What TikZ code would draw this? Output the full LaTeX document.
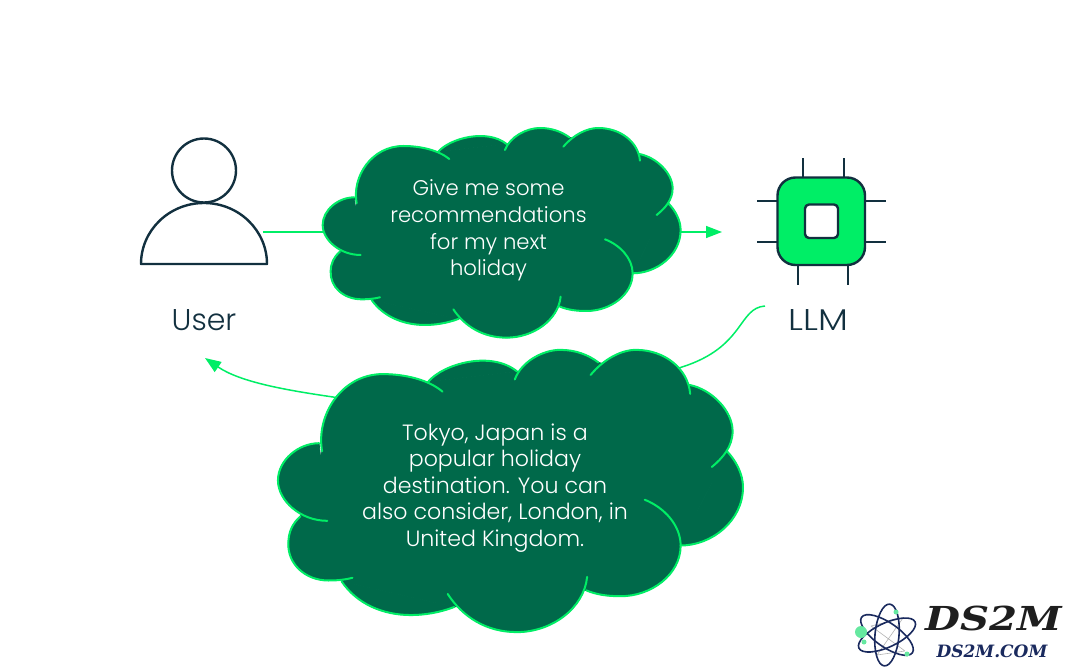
\documentclass[tikz,border=0pt]{standalone}
\usepackage{fontspec}
\setmainfont{Poppins}[UprightFont=* Light]
\newfontfamily\logofont{DejaVu Serif}[UprightFont=* Bold Italic]
\usetikzlibrary{arrows.meta}
\definecolor{ink}{HTML}{12303F}
\definecolor{neon}{HTML}{00EE66}
\definecolor{deep}{HTML}{00694A}
\definecolor{logoink}{HTML}{1E1E1E}
\definecolor{orbit}{HTML}{1A2A5E}
\definecolor{dotgreen}{HTML}{66E8A0}
\tikzset{
  glyph/.style={draw=ink,line width=2.4pt,line join=round},
  pin/.style={draw=ink,line width=2pt},
  flow/.style={draw=neon,line width=1.5pt},
  flowtip/.style={-{Triangle[length=16pt,width=12pt]}},
  cloudfill/.style={fill=deep,draw=deep,line width=.8pt},
  cloudline/.style={draw=neon,line width=2pt,line cap=round},
  asktext/.style={text=white,align=center,font=\fontsize{21.2}{26.6}\selectfont},
  replytext/.style={text=white,align=center,font=\fontsize{22.1}{26.6}\selectfont},
  actor/.style={text=ink,font=\fontsize{30}{34}\selectfont},
  orbitline/.style={draw=orbit,line width=1.6pt}
}
\newcommand\lobefill[1]{\path[cloudfill] #1 -- cycle;}
\newcommand\lobeline[1]{\path[cloudline] #1;}
\newcommand\cloudlobes[1]{%
 #1{(140,250) .. controls (125,170) and (185,78) .. (280,78) .. controls (330,78) and (385,90) .. (418,117)}%
 #1{(385,95) .. controls (420,55) and (530,25) .. (590,72)}%
 #1{(585,90) .. controls (600,50) and (650,24) .. (690,24) .. controls (725,24) and (755,35) .. (778,52)}%
 #1{(760,80) .. controls (790,45) and (830,24) .. (865,24) .. controls (930,24) and (985,65) .. (990,122)}%
 #1{(988,102) .. controls (1040,112) and (1088,160) .. (1088,205) .. controls (1088,240) and (1065,265) .. (1040,285)}%
 #1{(1075,250) .. controls (1095,270) and (1112,300) .. (1112,330) .. controls (1112,405) and (1040,460) .. (968,460)}%
 #1{(885,358) .. controls (930,375) and (968,415) .. (968,460) .. controls (968,525) and (900,573) .. (830,573) .. controls (800,573) and (775,570) .. (750,560)}%
 #1{(752,530) .. controls (745,600) and (670,653) .. (590,653) .. controls (520,653) and (465,620) .. (430,568)}%
 #1{(445,597) .. controls (410,610) and (375,615) .. (345,615) .. controls (280,615) and (220,590) .. (185,540)}%
 #1{(210,532) .. controls (190,537) and (170,538) .. (155,538) .. controls (100,538) and (60,500) .. (62,455) .. controls (62,430) and (72,410) .. (90,395)}%
 #1{(152,405) .. controls (90,405) and (38,360) .. (38,315) .. controls (38,270) and (85,232) .. (133,232)}%
}
\newcommand\cloudbody{%
 \path[cloudfill] (140,250) -- (385,95) -- (590,72) -- (778,52) -- (985,100) -- (1075,250) -- (968,460) -- (750,560) -- (445,597) -- (185,540) -- (90,395) -- cycle;
 \cloudlobes\lobefill
 \cloudlobes\lobeline
}
\begin{document}
\begin{tikzpicture}[x=1pt,y=-1pt]
\useasboundingbox (0,0) rectangle (1080,669);
% anchors
\coordinate (userout) at (263,232);
\coordinate (llmin) at (722,232);
\coordinate (llmout) at (765,306);
\coordinate (userin) at (205,358);
\coordinate (midreply) at (510,430);
\coordinate (replyleft) at (333,397);
% connectors
\path[flow,flowtip] (userout) -- (llmin);
\path[flow,flowtip] (llmout) .. controls (738,308) and (745,347) .. (682,367)
   .. controls (640,380) and (560,420) .. (midreply)
   .. controls (440,420) and (380,405) .. (replyleft)
   .. controls (285,390) and (240,382) .. (userin);
% clouds
\begin{scope}[shift={(310,120)},x=.3333pt,y=-.3333pt]\cloudbody\end{scope}
\begin{scope}[shift={(261.5,339.1)},x=.433pt,y=-.4487pt]\cloudbody\end{scope}
\node[asktext] (ask) at (488.5,230.5) {Give me some\\recommendations\\for my next\\holiday};
\node[replytext] (reply) at (495,488) {Tokyo, Japan is a\\popular holiday\\destination. You can\\also consider, London, in\\United Kingdom.};
% user
\draw[glyph] (204,170.5) circle (32);
\draw[glyph] (141,264) arc[start angle=180,end angle=360,x radius=63,y radius=61] -- cycle;
\node[actor] (userlabel) at (204,320) {User};
% chip
\foreach \px in {802.5,844} \draw[pin] (\px,158) -- (\px,178);
\foreach \px in {798,848} \draw[pin] (\px,265) -- (\px,285);
\foreach \py in {200.5,242} {\draw[pin] (757,\py) -- (777,\py); \draw[pin] (865,\py) -- (886,\py);}
\draw[glyph,fill=neon,rounded corners=18pt] (777.5,177.5) rectangle (865,265);
\draw[glyph,fill=white,rounded corners=4pt] (805,204.5) rectangle (838,238);
\node[actor,xscale=1.18] (llmlabel) at (818,320) {LLM};
% logo
\begin{scope}[shift={(887,635)}]
 \draw[gray!60,line width=.6pt] (-16,-9) -- (18,16) (16,-17) -- (-10,20) (-16,-9) -- (16,-17) (-10,20) -- (18,16);
 \foreach \r in {25,85,145} \draw[orbitline,rotate=\r] (0,0) ellipse (31 and 12);
\end{scope}
\fill[dotgreen] (861,632) circle (6) (864,642) circle (2.5) (896,612) circle (2.5) (907,654) circle (2.5);
\node[text=logoink,font=\logofont\fontsize{33}{33}\selectfont,inner sep=0pt,xscale=1.22] (logo) at (993.5,618.5) {DS2M};
\node[text=orbit,font=\logofont\fontsize{17}{17}\selectfont,inner sep=0pt] (site) at (992,651) {DS2M.COM};
\end{tikzpicture}
\end{document}
